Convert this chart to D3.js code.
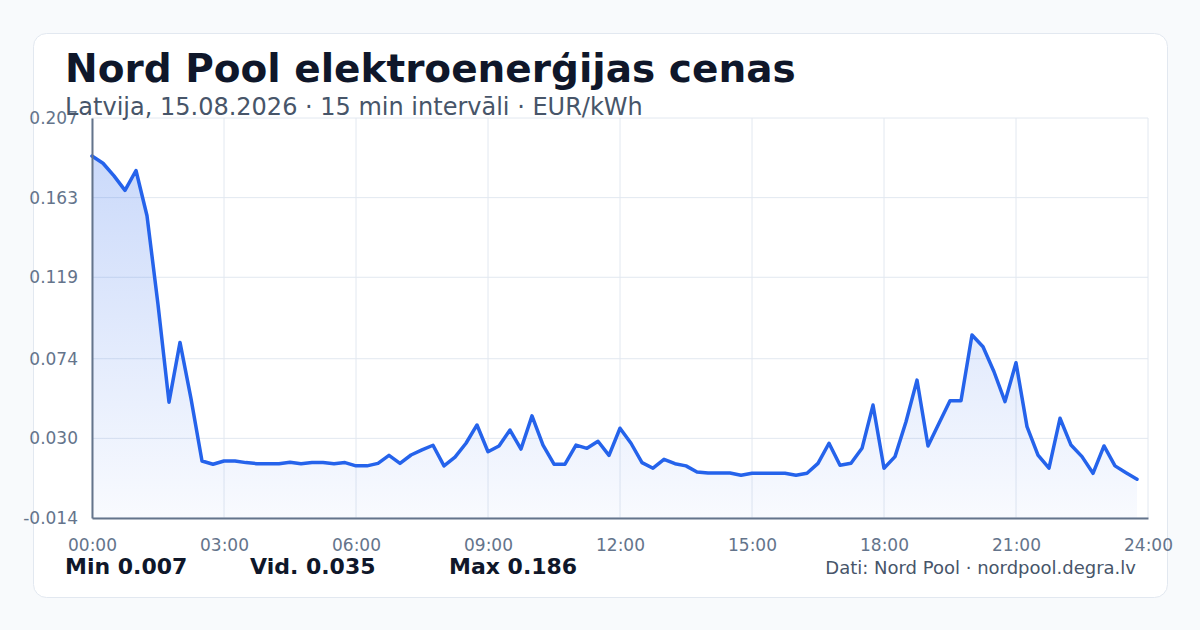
<!DOCTYPE html>
<html>
<head>
<meta charset="utf-8">
<script src="https://cdn.jsdelivr.net/npm/d3@7"></script>
<style>
  html, body { margin: 0; padding: 0; background: #f8fafc; }
  svg { display: block; font-family: "DejaVu Sans", sans-serif; }
</style>
</head>
<body>
<div class="chart"></div>
<script>
const FRAME_WIDTH = 1200;
const FRAME_HEIGHT = 630;
const MARGINS = {left: 92, right: 52, top: 118, bottom: 112};

// 15 min prices, EUR/kWh (96 intervals)
const PRICES = [
  0.186, 0.182, 0.175, 0.167, 0.178, 0.153, 0.104, 0.050, 0.083, 0.052,
  0.0175, 0.0157, 0.0175, 0.0175, 0.0166, 0.016, 0.016, 0.016, 0.0168, 0.016,
  0.0166, 0.0166, 0.016, 0.0166, 0.0148, 0.0148, 0.0162, 0.0206, 0.0162, 0.0208,
  0.0236, 0.0262, 0.0148, 0.0196, 0.0273, 0.0374, 0.0226, 0.0258, 0.0346, 0.0241,
  0.0424, 0.0263, 0.0157, 0.0157, 0.0263, 0.0245, 0.0284, 0.0206, 0.0356, 0.0273,
  0.0166, 0.0135, 0.0184, 0.016, 0.0148, 0.0114, 0.0109, 0.0109, 0.0109, 0.0096,
  0.0107, 0.0107, 0.0107, 0.0107, 0.0096, 0.0107, 0.0162, 0.0273, 0.0151, 0.0162,
  0.0245, 0.0484, 0.0135, 0.0199, 0.0392, 0.0622, 0.0258, 0.0383, 0.0508, 0.0508,
  0.0871, 0.0806, 0.0668, 0.0503, 0.0718, 0.0365, 0.0208, 0.0135, 0.0411, 0.0263,
  0.0199, 0.0107, 0.0258, 0.0148, 0.011, 0.0074
];
const Y_TICKS = [-0.014, 0.030, 0.074, 0.119, 0.163, 0.207];
const X_TICKS = [0, 3, 6, 9, 12, 15, 18, 21, 24];
const X_LABELS = ["00:00", "03:00", "06:00", "09:00", "12:00", "15:00", "18:00", "21:00", "24:00"];
const STATS = ["Min 0.007", "Vid. 0.035", "Max 0.186"];
const STAT_X = [65, 250, 449];

const TITLE = "Nord Pool elektroenerģijas cenas";
const SUBTITLE = "Latvija, 15.08.2026 · 15 min intervāli · EUR/kWh";
const SOURCE = "Dati: Nord Pool · nordpool.degra.lv";

const PLOT_WIDTH = FRAME_WIDTH - MARGINS.left - MARGINS.right;
const PLOT_HEIGHT = FRAME_HEIGHT - MARGINS.top - MARGINS.bottom;

const FRAME = d3.select(".chart")
                .append("svg")
                .attr("width", FRAME_WIDTH)
                .attr("height", FRAME_HEIGHT);

// card
FRAME.append("rect")
     .attr("x", 33.5).attr("y", 33.5)
     .attr("width", 1134).attr("height", 564)
     .attr("rx", 13)
     .attr("fill", "#ffffff")
     .attr("stroke", "#e2e8f0");

const X_SCALE = d3.scaleLinear().domain([0, 24]).range([0, PLOT_WIDTH]);
const Y_SCALE = d3.scaleLinear().domain([-0.014, 0.207]).range([PLOT_HEIGHT, 0]);

const defs = FRAME.append("defs");
const grad = defs.append("linearGradient")
                 .attr("id", "areaFill")
                 .attr("x1", 0).attr("y1", 0).attr("x2", 0).attr("y2", 1);
grad.append("stop").attr("offset", "0%").attr("stop-color", "#2563eb").attr("stop-opacity", 0.24);
grad.append("stop").attr("offset", "100%").attr("stop-color", "#2563eb").attr("stop-opacity", 0.03);

const PLOT = FRAME.append("g")
                  .attr("transform", "translate(" + MARGINS.left + "," + MARGINS.top + ")");

// grid
PLOT.append("g")
    .selectAll("line")
    .data(Y_TICKS)
    .enter()
    .append("line")
      .attr("x1", 0).attr("x2", PLOT_WIDTH)
      .attr("y1", (d) => Y_SCALE(d)).attr("y2", (d) => Y_SCALE(d))
      .attr("stroke", "#e2e8f0").attr("stroke-width", 1);

PLOT.append("g")
    .selectAll("line")
    .data(X_TICKS)
    .enter()
    .append("line")
      .attr("x1", (d) => X_SCALE(d)).attr("x2", (d) => X_SCALE(d))
      .attr("y1", 0).attr("y2", PLOT_HEIGHT)
      .attr("stroke", "#e2e8f0").attr("stroke-width", 1);

// area + line
const area = d3.area()
               .x((d, i) => X_SCALE(i / 4))
               .y0(PLOT_HEIGHT)
               .y1((d) => Y_SCALE(d));

const line = d3.line()
               .x((d, i) => X_SCALE(i / 4))
               .y((d) => Y_SCALE(d));

PLOT.append("path")
    .datum(PRICES)
    .attr("d", area)
    .attr("fill", "url(#areaFill)");

PLOT.append("path")
    .datum(PRICES)
    .attr("d", line)
    .attr("fill", "none")
    .attr("stroke", "#2563eb")
    .attr("stroke-width", 3.5)
    .attr("stroke-linejoin", "round")
    .attr("stroke-linecap", "round");

// axes
const yAxis = PLOT.append("g")
    .call(d3.axisLeft(Y_SCALE).tickValues(Y_TICKS).tickSize(0).tickPadding(14)
            .tickFormat((d) => d.toFixed(3)));
const xAxis = PLOT.append("g")
    .attr("transform", "translate(0," + PLOT_HEIGHT + ")")
    .call(d3.axisBottom(X_SCALE).tickValues(X_TICKS).tickSize(0).tickPadding(21)
            .tickFormat((d, i) => X_LABELS[i]));

[yAxis, xAxis].forEach((ax) => {
  ax.select(".domain").attr("stroke", "#64748b").attr("stroke-width", 2);
  ax.selectAll("text")
    .attr("fill", "#64748b")
    .attr("font-size", "17px")
    .attr("font-family", "DejaVu Sans");
});

// titles
FRAME.append("text")
     .attr("x", 65).attr("y", 82)
     .attr("font-size", "39px").attr("font-weight", "bold")
     .attr("fill", "#0f172a")
     .text(TITLE);

FRAME.append("text")
     .attr("x", 65).attr("y", 115)
     .attr("font-size", "24px")
     .attr("fill", "#475569")
     .text(SUBTITLE);

// footer stats
FRAME.selectAll(".stat")
     .data(STATS)
     .enter()
     .append("text")
       .attr("class", "stat")
       .attr("x", (d, i) => STAT_X[i]).attr("y", 574)
       .attr("font-size", "22px").attr("font-weight", "bold")
       .attr("fill", "#0f172a")
       .text((d) => d);

FRAME.append("text")
     .attr("x", 1136).attr("y", 574)
     .attr("text-anchor", "end")
     .attr("font-size", "18px")
     .attr("fill", "#475569")
     .text(SOURCE);
</script>
</body>
</html>
